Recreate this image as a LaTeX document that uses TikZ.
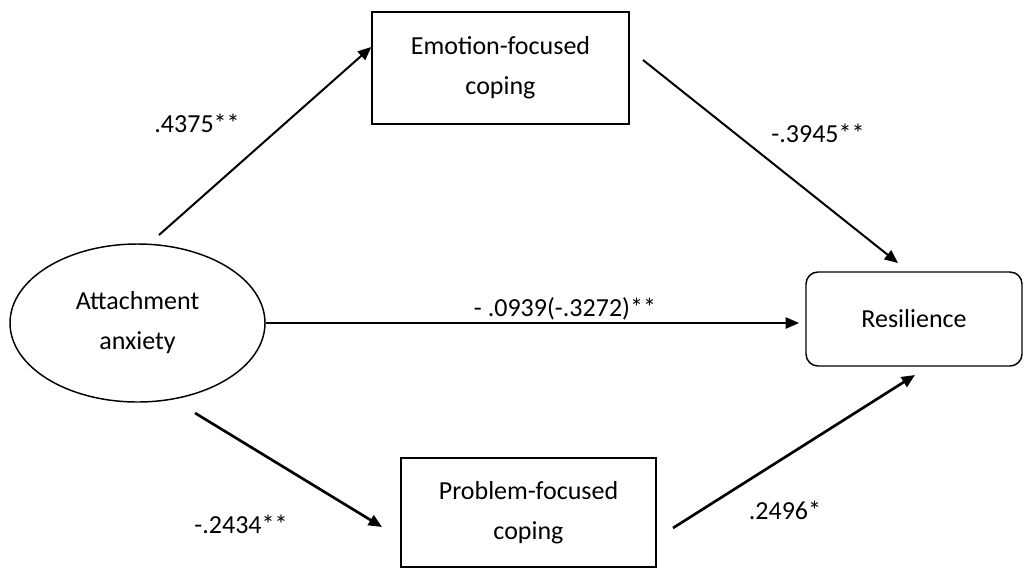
\documentclass[tikz,border=0pt]{standalone}
\usepackage{fontspec}
\setmainfont{Carlito}
\usetikzlibrary{arrows.meta,shapes.geometric}
\begin{document}
\begin{tikzpicture}[x=0.75pt,y=-0.75pt,
  every node/.style={font=\fontsize{19.5}{30}\selectfont},
  box/.style={draw,line width=1.1pt,align=center,inner sep=0pt},
  link/.style={line width=1.5pt,-{Triangle[length=10pt,width=8.5pt]}},
  heavylink/.style={link,line width=2pt},
  coef/.style={anchor=base,inner sep=0pt}]
\useasboundingbox (0,0) rectangle (1026,569);

% variables
\node[box,ellipse,minimum width=191.25pt,minimum height=118.5pt] (A) at (137.5,323) {Attachment\\anxiety};
\node[box,rectangle,minimum width=192.75pt,minimum height=84pt] (E) at (500.5,68) {Emotion-focused\\coping};
\node[box,rectangle,minimum width=191.25pt,minimum height=81.75pt] (P) at (528.5,512.5) {Problem-focused\\coping};
\node[box,rectangle,rounded corners=9pt,minimum width=162pt,minimum height=70.5pt] (R) at (914,319) {Resilience};

% free ends of the paths
\coordinate (aeS) at (159,235);
\coordinate (erS) at (643,60);
\coordinate (erT) at (898,263);
\coordinate (arT) at (799,323);
\coordinate (apS) at (195,413);
\coordinate (apT) at (382,527);
\coordinate (prS) at (673,528);
\coordinate (prT) at (915,375);

% paths
\draw[link] (aeS) -- ([yshift=15.75pt]E.west);
\draw[link] (erS) -- (erT);
\draw[link,line width=1.1pt] (A.east) -- (arT);
\draw[heavylink] (apS) -- (apT);
\draw[heavylink] (prS) -- (prT);

% coefficients
\node[coef] (cae) at (197,132) {.4375**};
\node[coef] (cer) at (818,142) {-.3945**};
\node[coef] (car) at (565,316) {- .0939(-.3272)**};
\node[coef] (cap) at (241,533) {-.2434**};
\node[coef] (cpr) at (785,519) {.2496*};
\end{tikzpicture}
\end{document}
